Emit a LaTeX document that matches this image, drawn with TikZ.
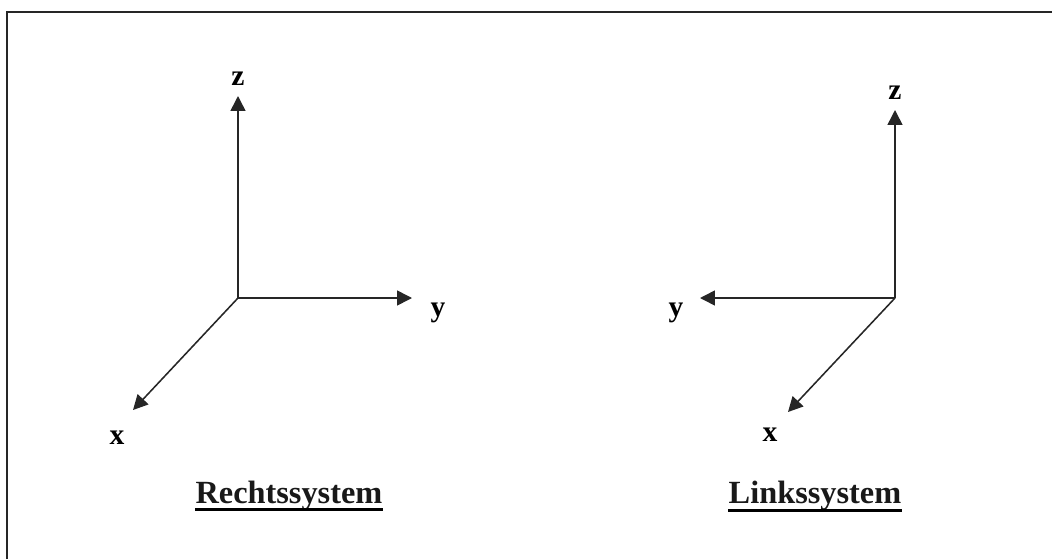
\documentclass[tikz,border=0pt]{standalone}
\usepackage{fontspec}
\setmainfont{Liberation Serif}
\usetikzlibrary{arrows.meta}

\begin{document}
\begin{tikzpicture}[x=0.025cm, y=-0.025cm, >={Triangle[length=10.5pt, width=10.5pt]},
    axis/.style={->, line width=1.1pt, black!85},
    lbl/.style={anchor=base, font=\fontsize{21}{24}\selectfont\bfseries, inner sep=0pt},
    title/.style={anchor=base, font=\fontsize{23}{27}\selectfont\bfseries, inner sep=0pt, text=black!90}]
  \useasboundingbox (0,0) rectangle (1052,559);
  % frame
  \draw[line width=1.8pt, black!85] (7,559) -- (7,12) -- (1052,12);
  % right-handed system
  \coordinate (O1) at (238,298);
  \coordinate (z1) at (238,96);
  \coordinate (y1) at (412,298);
  \coordinate (x1) at (133,410);
  \draw[axis] (O1) -- (z1);
  \draw[axis] (O1) -- (y1);
  \draw[axis] (O1) -- (x1);
  \node[lbl] (lz1) at (238,85) {z};
  \node[lbl] (ly1) at (438,316) {y};
  \node[lbl] (lx1) at (117,444) {x};
  \node[title] (T1) at (289,503) {Rechtssystem};
  \draw[line width=2pt] ([yshift=-4.5pt]T1.base west) -- ([yshift=-4.5pt]T1.base east);
  % left-handed system
  \coordinate (O2) at (895,298);
  \coordinate (z2) at (895,110);
  \coordinate (y2) at (700,298);
  \coordinate (x2) at (788,412);
  \draw[axis] (O2) -- (z2);
  \draw[axis] (O2) -- (y2);
  \draw[axis] (O2) -- (x2);
  \node[lbl] (lz2) at (895,99) {z};
  \node[lbl] (ly2) at (676,316) {y};
  \node[lbl] (lx2) at (770,441) {x};
  \node[title] (T2) at (815,503) {Linkssystem};
  \draw[line width=2pt] ([yshift=-5.5pt]T2.base west) -- ([yshift=-5.5pt]T2.base east);
\end{tikzpicture}
\end{document}
